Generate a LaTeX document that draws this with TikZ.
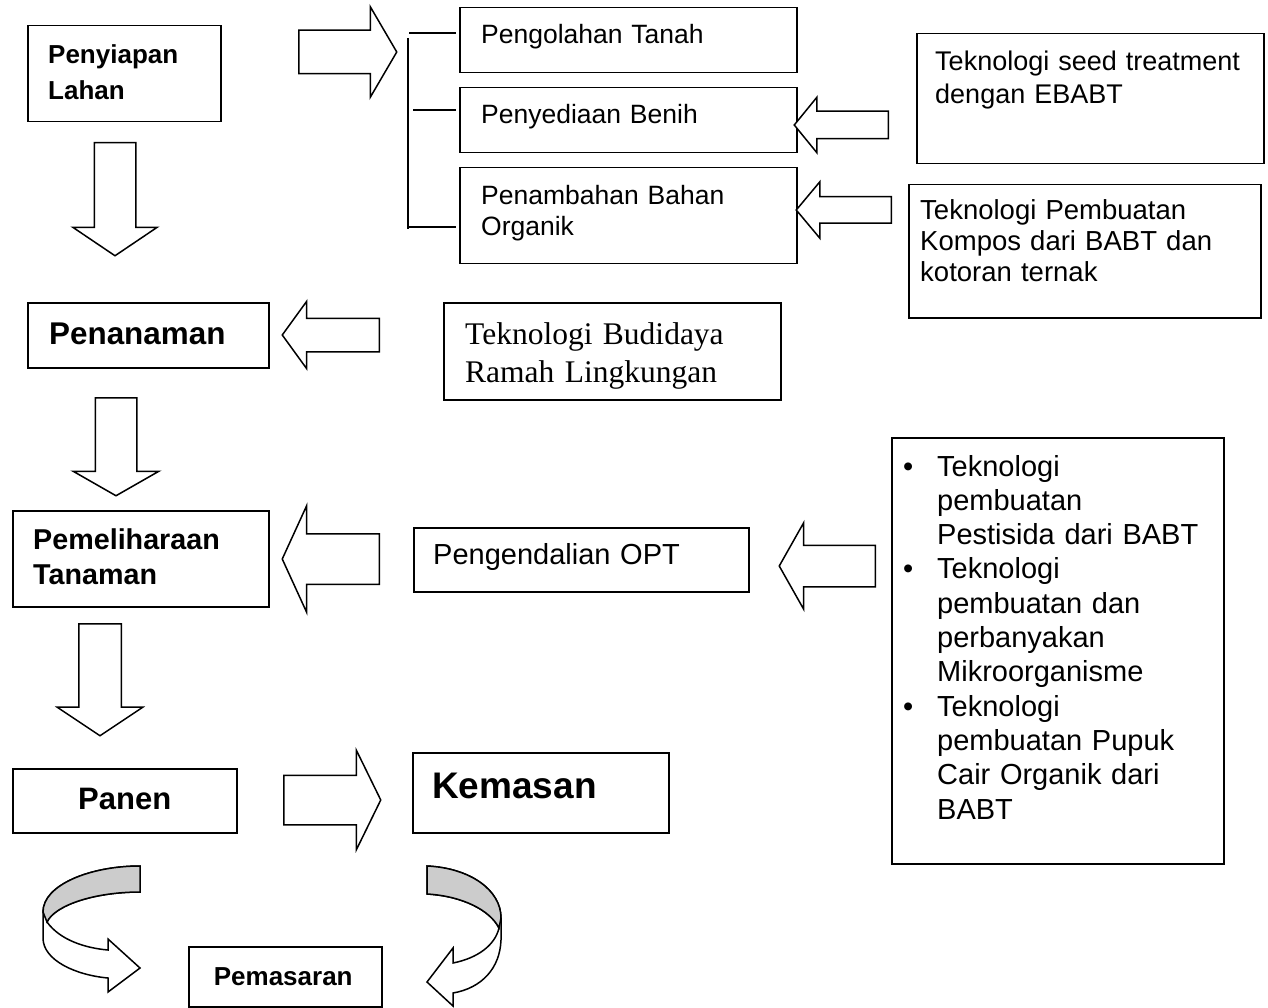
\documentclass[tikz,border=0pt]{standalone}
\usepackage{fontspec}
\setmainfont{Liberation Sans}
\newfontfamily\timesfont{Liberation Serif}
\usetikzlibrary{shapes.arrows}
\definecolor{ribbongray}{HTML}{CCCCCC}

\begin{document}
\begin{tikzpicture}[x=1pt, y=-1pt,
    box/.style={draw, line width=1.5pt, inner sep=0pt, anchor=north west},
    txt/.style={inner sep=0pt, anchor=base west, text width=340pt, align=left},
    blockarrow/.style={draw, fill=white, line width=1.5pt, single arrow, anchor=tail,
      inner xsep=0pt, minimum width=0pt, single arrow head indent=0pt},
    line/.style={line width=1.5pt}]
  \useasboundingbox (0,0) rectangle (1268,1008);

  % boxes of the main steps
  \node[box, minimum width=193pt, minimum height=96pt] (lahan) at (27,25) {};
  \node[box, minimum width=241pt, minimum height=65pt] (penanaman) at (27,302) {};
  \node[box, minimum width=256pt, minimum height=96pt] (pemeliharaan) at (12,510) {};
  \node[box, minimum width=224pt, minimum height=64pt] (panen) at (12,768) {};
  \node[box, minimum width=256pt, minimum height=80pt] (kemasan) at (412,752) {};
  \node[box, minimum width=193pt, minimum height=60pt] (pemasaran) at (188,946) {};

  % sub steps and technologies
  \node[box, minimum width=337pt, minimum height=65pt] (tanah) at (459,7) {};
  \node[box, minimum width=337pt, minimum height=65pt] (benih) at (459,87) {};
  \node[box, minimum width=337pt, minimum height=96pt] (organik) at (459,167) {};
  \node[box, minimum width=347pt, minimum height=130pt] (seed) at (916,33) {};
  \node[box, minimum width=352pt, minimum height=133pt] (kompos) at (908,184) {};
  \node[box, minimum width=337pt, minimum height=97pt] (budidaya) at (443,302) {};
  \node[box, minimum width=335pt, minimum height=64pt] (opt) at (413,527) {};
  \node[box, minimum width=332pt, minimum height=426pt] (teknopt) at (891,437) {};

  % texts
  \node[txt, font=\bfseries\fontsize{26}{36}\selectfont] (lahan-t) at ([shift={(21,39)}]lahan.north west) {Penyiapan\\Lahan};
  \node[txt, font=\bfseries\fontsize{31.4}{36}\selectfont] (penanaman-t) at ([shift={(22,42)}]penanaman.north west) {Penanaman};
  \node[txt, font=\bfseries\fontsize{28.7}{35}\selectfont] (pemeliharaan-t) at ([shift={(21,39)}]pemeliharaan.north west) {Pemeliharaan\\Tanaman};
  \node[inner sep=0pt, anchor=base, font=\bfseries\fontsize{31}{36}\selectfont] (panen-t) at ([shift={(0,9)}]panen.center) {Panen};
  \node[txt, font=\bfseries\fontsize{37}{42}\selectfont] (kemasan-t) at ([shift={(20,46)}]kemasan.north west) {Kemasan};
  \node[inner sep=0pt, anchor=base, font=\bfseries\fontsize{26}{30}\selectfont] (pemasaran-t) at ([shift={(-2,9)}]pemasaran.center) {Pemasaran};

  \node[txt, font=\fontsize{26.5}{31}\selectfont] (tanah-t) at ([shift={(22,37)}]tanah.north west) {Pengolahan Tanah};
  \node[txt, font=\fontsize{26.5}{31}\selectfont] (benih-t) at ([shift={(22,37)}]benih.north west) {Penyediaan Benih};
  \node[txt, font=\fontsize{26.5}{31}\selectfont] (organik-t) at ([shift={(22,38)}]organik.north west) {Penambahan Bahan\\Organik};
  \node[txt, font=\fontsize{27}{33}\selectfont] (seed-t) at ([shift={(19,38)}]seed.north west) {Teknologi seed treatment\\dengan EBABT};
  \node[txt, font=\fontsize{27.5}{31}\selectfont] (kompos-t) at ([shift={(12,36)}]kompos.north west) {Teknologi Pembuatan\\Kompos dari BABT dan\\kotoran ternak};
  \node[txt, font=\timesfont\fontsize{31.5}{38.5}\selectfont] (budidaya-t) at ([shift={(22,42)}]budidaya.north west) {Teknologi Budidaya\\Ramah Lingkungan};
  \node[txt, font=\fontsize{29}{34}\selectfont] (opt-t) at ([shift={(20,37)}]opt.north west) {Pengendalian OPT};
  \node[txt, font=\fontsize{29}{34.3}\selectfont] (teknopt-t) at ([shift={(46,39)}]teknopt.north west)
    {\leavevmode\llap{\textbullet\hspace{24pt}}Teknologi\\pembuatan\\Pestisida dari BABT\\
     \leavevmode\llap{\textbullet\hspace{24pt}}Teknologi\\pembuatan dan\\perbanyakan\\Mikroorganisme\\
     \leavevmode\llap{\textbullet\hspace{24pt}}Teknologi\\pembuatan Pupuk\\Cair Organik dari\\BABT};

  % bracket to the sub steps
  \coordinate (br-top) at (408,38);
  \coordinate (br-bot) at (408,229);
  \draw[line] (br-top) -- (br-bot);
  \coordinate (br1) at (409,33);
  \coordinate (br2) at (413,110);
  \coordinate (br3) at (408,227);
  \draw[line] (br1) -- ([xshift=-3pt]br1 -| tanah.west);
  \draw[line] (br2) -- ([xshift=-3pt]br2 -| benih.west);
  \draw[line] (br3) -- ([xshift=-3pt]br3 -| organik.west);

  % block arrows
  \node[blockarrow, inner ysep=21pt, single arrow head extend=23.5pt, single arrow tip angle=119.4, minimum height=98pt] (ar-sub) at (298,52) {};
  \node[blockarrow, rotate=-90, inner ysep=20pt, single arrow head extend=21.5pt, single arrow tip angle=112, minimum height=113pt] (ar-tanam) at (115,142) {};
  \node[blockarrow, rotate=-90, inner ysep=20pt, single arrow head extend=22pt, single arrow tip angle=120.5, minimum height=98pt] (ar-pelihara) at (116,397) {};
  \node[blockarrow, rotate=-90, inner ysep=20.5pt, single arrow head extend=21.5pt, single arrow tip angle=112.6, minimum height=112pt] (ar-panen) at (100,623) {};
  \node[blockarrow, rotate=180, inner ysep=13pt, single arrow head extend=14pt, single arrow tip angle=101.6, minimum height=94pt] (ar-seed) at (889,125) {};
  \node[blockarrow, rotate=180, inner ysep=12.5pt, single arrow head extend=15pt, single arrow tip angle=100.2, minimum height=95pt] (ar-kompos) at (892,210) {};
  \node[blockarrow, rotate=180, inner ysep=16pt, single arrow head extend=17pt, single arrow tip angle=108.1, minimum height=97pt] (ar-budidaya) at (380,335) {};
  \node[blockarrow, rotate=180, inner ysep=24.5pt, single arrow head extend=28pt, single arrow tip angle=130.8, minimum height=97pt] (ar-opt) at (380,559) {};
  \node[blockarrow, rotate=180, inner ysep=20pt, single arrow head extend=22.5pt, single arrow tip angle=121.1, minimum height=96pt] (ar-teknopt) at (876,566) {};
  \node[blockarrow, inner ysep=24pt, single arrow head extend=25pt, single arrow tip angle=127.8, minimum height=97pt] (ar-kemas) at (283,800) {};

  % curved arrows to Pemasaran
  \filldraw[fill=white, line width=1.5pt, line join=miter]
    (140,866) .. controls (90,866) and (43,885) .. (43,912) -- (43,938)
    .. controls (43,960) and (75,975) .. (108,978) -- (108,992) -- (140,968) -- (108,939) -- (108,950)
    .. controls (85,948) and (60,940) .. (47,922)
    .. controls (55,905) and (95,892) .. (140,892) -- cycle;
  \filldraw[fill=ribbongray, line width=1.5pt]
    (140,866) .. controls (90,866) and (43,885) .. (43,912) -- (47,922)
    .. controls (55,905) and (95,892) .. (140,892) -- cycle;
  \filldraw[fill=white, line width=1.5pt, line join=miter]
    (427,866) .. controls (470,868) and (501,890) .. (501,918) -- (501,940)
    .. controls (500,968) and (482,988) .. (453,993) -- (453,1006) -- (427,982) -- (453,948) -- (453,963)
    .. controls (478,958) and (495,945) .. (499,928)
    .. controls (490,910) and (462,896) .. (427,894) -- cycle;
  \filldraw[fill=ribbongray, line width=1.5pt]
    (427,866) .. controls (470,868) and (501,890) .. (501,918) -- (499,928)
    .. controls (490,910) and (462,896) .. (427,894) -- cycle;
\end{tikzpicture}
\end{document}
